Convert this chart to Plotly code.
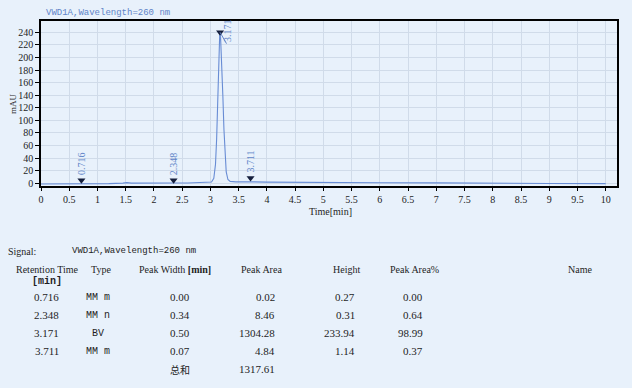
import plotly.graph_objects as go

# ---- chromatogram trace ----
time_min = [0.0, 0.3, 0.6, 0.75, 0.9, 1.2, 1.45, 1.52, 1.6, 1.9, 2.2, 2.35, 2.6, 2.9, 3.02,
            3.06, 3.09, 3.11, 3.13, 3.15, 3.165, 3.18, 3.2, 3.22, 3.24, 3.26, 3.28, 3.31,
            3.35, 3.45, 3.6, 3.75, 4.0, 4.5, 5.0, 6.0, 7.0, 7.5, 8.0, 9.0, 10.0]
signal_mau = [-1.2, -1.2, -1.0, -0.3, -0.6, -0.5, 0.3, 1.0, 0.3, 0.0, 0.2, 0.4, 0.5, 0.8, 2.0,
              8.0, 30.0, 70.0, 140.0, 205.0, 238.0, 232.0, 195.0, 140.0, 85.0, 42.0, 18.0, 6.0,
              3.0, 2.2, 2.6, 2.3, 1.8, 1.4, 1.1, 0.9, 0.7, 0.3, -0.2, -0.4, -0.5]

# ---- peak marks ----
peak_rt = [0.716, 2.348, 3.171, 3.711]
peak_mark_y = [5.0, 5.0, 240.0, 8.5]
peak_labels = ["0.716", "2.348", "3.171", "3.711"]

# ---- results table ----
signal_name = "VWD1A,Wavelength=260 nm"
col_headers = ["Retention Time", "Type", "Peak Width [min]", "Peak Area", "Height", "Peak Area%", "Name"]
rt_col = ["0.716", "2.348", "3.171", "3.711"]
type_col = ["MM m", "MM n", "BV", "MM m"]
width_col = ["0.00", "0.34", "0.50", "0.07"]
area_col = ["0.02", "8.46", "1304.28", "4.84"]
height_col = ["0.27", "0.31", "233.94", "1.14"]
area_pct_col = ["0.00", "0.64", "98.99", "0.37"]
total_label = "总和"
total_area = "1317.61"

BG = "rgb(232,241,251)"
BLUE = "rgb(96,132,200)"
LINE = "rgb(104,140,212)"
INK = "rgb(30,30,30)"
SERIF = "Liberation Serif"
MONO = "Liberation Mono"

W, H = 632, 388
PL, PR, PT, PB = 41, 617, 21, 186

def px(x):
    return (x - PL) / (PR - PL)

def py(y):
    return (PB - y) / (PB - PT)

fig = go.Figure()
fig.add_trace(go.Scatter(x=time_min, y=signal_mau, mode="lines",
                         line=dict(color=LINE, width=1.1), hoverinfo="skip"))
fig.add_trace(go.Scatter(x=peak_rt, y=peak_mark_y, mode="markers",
                         marker=dict(symbol="triangle-down", size=7, color="rgb(20,30,60)"),
                         hoverinfo="skip"))

annotations = []
# peak labels (rotated)
for rt, yv, lab in zip(peak_rt, peak_mark_y, peak_labels):
    if lab == "3.171":
        continue
    annotations.append(dict(x=rt, y=yv, xref="x", yref="y", text=lab, showarrow=False,
                            textangle=-90, xanchor="center", yanchor="bottom", yshift=3,
                            font=dict(family=SERIF, size=10, color=BLUE)))
# main peak label with leader line
annotations.append(dict(x=3.29, y=222, xref="x", yref="y", text=peak_labels[2], showarrow=False,
                        textangle=-90, xanchor="center", yanchor="bottom",
                        font=dict(family=SERIF, size=10, color=BLUE)))

# chart title
annotations.append(dict(x=px(44), y=py(13), xref="paper", yref="paper", text=signal_name,
                        showarrow=False, xanchor="left", yanchor="middle",
                        font=dict(family=MONO, size=9, color=BLUE)))

# axis titles
annotations.append(dict(x=px(13), y=py(104), xref="paper", yref="paper", text="mAU",
                        showarrow=False, textangle=-90, xanchor="center", yanchor="middle",
                        font=dict(family=SERIF, size=9, color=INK)))
annotations.append(dict(x=px(330), y=py(211), xref="paper", yref="paper", text="Time[min]",
                        showarrow=False, xanchor="center", yanchor="middle",
                        font=dict(family=SERIF, size=10, color=INK)))

# table
def txt(x, y, s, anchor="left", family=SERIF, size=10, bold=False):
    if bold:
        s = "<b>" + s + "</b>"
    annotations.append(dict(x=px(x), y=py(y), xref="paper", yref="paper", text=s,
                            showarrow=False, xanchor=anchor, yanchor="middle",
                            font=dict(family=family, size=size, color=INK)))

txt(6, 251, "Signal:", family=SERIF, size=10)
txt(70, 251, signal_name, family=MONO, size=9)
txt(47, 269, col_headers[0], anchor="center")
txt(47, 281, "[min]", anchor="center", family=MONO, size=10, bold=True)
txt(101, 269, col_headers[1], anchor="center")
txt(175, 269, "Peak Width <b>[min]</b>", anchor="center")
txt(261, 269, col_headers[3], anchor="center")
txt(346, 269, col_headers[4], anchor="center")
txt(414, 269, col_headers[5], anchor="center")
txt(580, 269, col_headers[6], anchor="center")

row_y = [297, 315, 333, 351]
for i, yv in enumerate(row_y):
    txt(61, yv, rt_col[i], anchor="right", size=11)
    txt(98, yv, type_col[i], anchor="center", family=MONO, size=10)
    txt(192, yv, width_col[i], anchor="right", size=11)
    txt(277, yv, area_col[i], anchor="right", size=11)
    txt(357, yv, height_col[i], anchor="right", size=11)
    txt(425, yv, area_pct_col[i], anchor="right", size=11)
txt(192, 369, total_label, anchor="right", family="Noto Sans CJK SC", size=10)
txt(277, 369, total_area, anchor="right", size=11)

fig.update_layout(
    width=W, height=H,
    margin=dict(l=PL, r=W - PR, t=PT, b=H - PB, autoexpand=False),
    paper_bgcolor=BG, plot_bgcolor=BG,
    showlegend=False,
    annotations=annotations,
    shapes=[dict(type="line", xref="x", yref="y", x0=3.171, y0=240, x1=3.285, y1=222,
                 line=dict(color=BLUE, width=1))],
    font=dict(family=SERIF, size=10, color=INK),
)
fig.update_xaxes(range=[0, 10.2], tick0=0, dtick=0.5, showgrid=True, automargin=False,
                 gridcolor="rgb(208,219,233)", gridwidth=1, zeroline=False,
                 showline=True, linecolor="black", linewidth=1.5, mirror=True,
                 ticks="outside", ticklen=3, tickcolor="black",
                 tickfont=dict(family=SERIF, size=10, color=INK))
fig.update_yaxes(range=[-4.3, 258], tick0=0, dtick=20, showgrid=True, automargin=False,
                 gridcolor="rgb(208,219,233)", gridwidth=1, zeroline=False,
                 showline=True, linecolor="black", linewidth=1.5, mirror=True,
                 ticks="outside", ticklen=4, tickcolor="black",
                 tickfont=dict(family=SERIF, size=10, color=INK))

fig.write_html("out.html", config={"displayModeBar": False},
               post_script="document.body.style.margin='0';document.body.style.background='rgb(232,241,251)';")
